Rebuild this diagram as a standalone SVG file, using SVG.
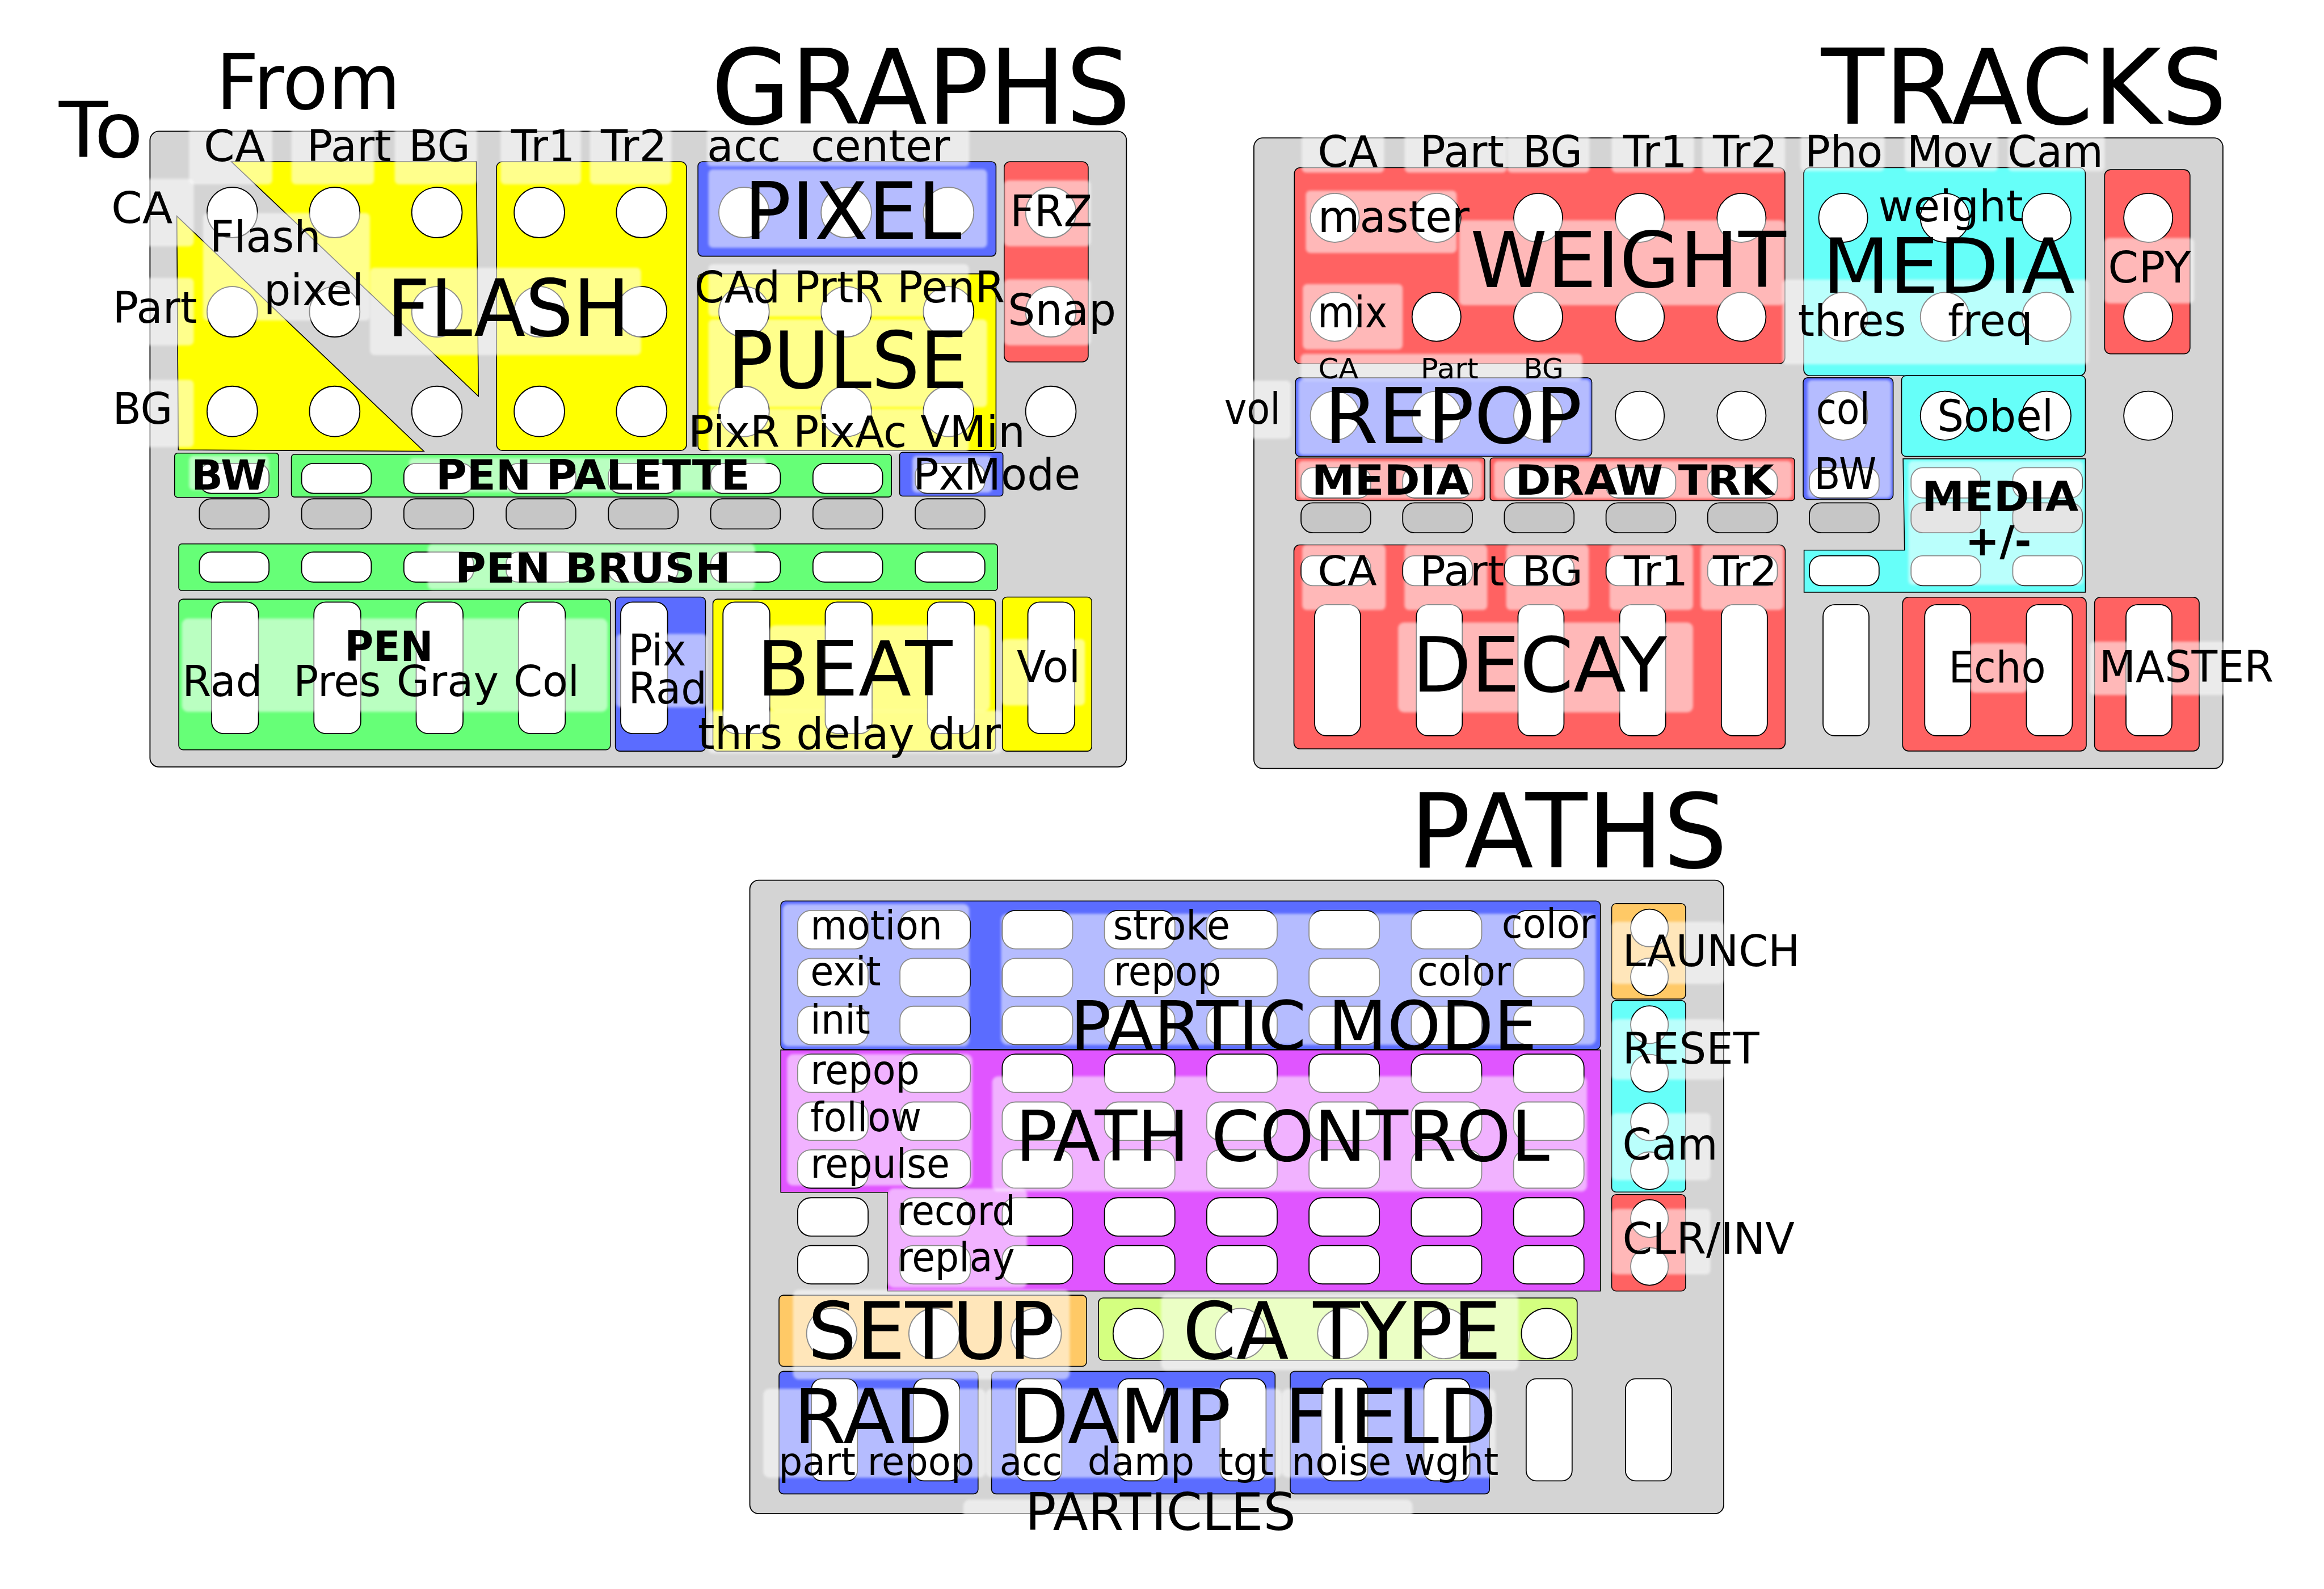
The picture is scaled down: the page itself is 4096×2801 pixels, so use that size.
<svg xmlns="http://www.w3.org/2000/svg" width="4096" height="2801" viewBox="0 0 4096 2801">
<defs>
<filter id="bl" x="-10%" y="-10%" width="120%" height="120%"><feGaussianBlur stdDeviation="0.8"/></filter>
<style>
text{font-family:"DejaVu Sans","Liberation Sans",sans-serif;fill:#000}
.s{font-size:29px}
.s2{font-size:27.5px}
.sb{font-size:28px;font-weight:bold}
.m{font-size:52px}
.t{font-size:70px}
.pn{fill:#d4d4d4;stroke:#000;stroke-width:0.7}
.Y{fill:#ffff00;stroke:#000;stroke-width:0.6}
.R{fill:#ff6262;stroke:#000;stroke-width:0.6}
.B{fill:#5b6cff;stroke:#000;stroke-width:0.6}
.G{fill:#66ff77;stroke:#000;stroke-width:0.6}
.C{fill:#66fff9;stroke:#000;stroke-width:0.6}
.M{fill:#e055ff;stroke:#000;stroke-width:0.6}
.O{fill:#ffc966;stroke:#000;stroke-width:0.6}
.L{fill:#d4ff80;stroke:#000;stroke-width:0.6}
circle{fill:#fff;stroke:#000;stroke-width:0.7}
.bt{fill:#fff;stroke:#000;stroke-width:0.7}
.gb{fill:#c6c6c6;stroke:#000;stroke-width:0.7}
.w{fill:#fff;opacity:0.55;filter:url(#bl)}
</style>
</defs>
<rect width="4096" height="2801" fill="#fff"/>
<g transform="scale(2.61224)">

<!-- ================= GRAPHS ================= -->
<g id="graphs">
<rect class="pn" x="101.2" y="88.6" width="658.8" height="428.9" rx="6"/>

<g id="flash">
<polygon class="Y" points="156.1,109.1 321.4,109.1 322.8,267.4"/>
<polygon class="Y" points="119.3,145.8 120.3,303.6 286,304.5"/>
<rect class="Y" x="335" y="109.1" width="128.2" height="194.9" rx="4"/>
<circle cx="156.7" cy="143.4" r="17"/><circle cx="225.8" cy="143.4" r="17"/><circle cx="294.8" cy="143.4" r="17"/><circle cx="363.9" cy="143.4" r="17"/><circle cx="432.9" cy="143.4" r="17"/>
<circle cx="156.7" cy="210.4" r="17"/><circle cx="225.8" cy="210.4" r="17"/><circle cx="294.8" cy="210.4" r="17"/><circle cx="363.9" cy="210.4" r="17"/><circle cx="432.9" cy="210.4" r="17"/>
<circle cx="156.7" cy="277.6" r="17"/><circle cx="225.8" cy="277.6" r="17"/><circle cx="294.8" cy="277.6" r="17"/><circle cx="363.9" cy="277.6" r="17"/><circle cx="432.9" cy="277.6" r="17"/>
<rect class="w" x="137" y="143.7" width="112.6" height="72.6" rx="3"/>
<rect class="w" x="249.6" y="180.7" width="182.9" height="58.9" rx="3"/>
<text class="s" x="141.5" y="170" textLength="75" lengthAdjust="spacingAndGlyphs">Flash</text>
<text class="s" x="178" y="206.1" textLength="67.5" lengthAdjust="spacingAndGlyphs">pixel</text>
<text x="261" y="226.6" font-size="53.5" textLength="164" lengthAdjust="spacingAndGlyphs">FLASH</text>
</g>

<g id="pixel">
<rect class="B" x="470.9" y="109.1" width="201.1" height="63.8" rx="3"/>
<circle cx="502" cy="143.4" r="17"/><circle cx="571" cy="143.4" r="17"/><circle cx="640" cy="143.4" r="17"/>
<rect class="w" x="478" y="114.3" width="188" height="52.9" rx="3"/>
<text x="502" y="161" font-size="53" textLength="146.7" lengthAdjust="spacingAndGlyphs">PIXEL</text>
</g>

<g id="pulse">
<rect class="Y" x="470.9" y="184.8" width="201.1" height="119.2" rx="3"/>
<circle cx="502" cy="210.4" r="17"/><circle cx="571" cy="210.4" r="17"/><circle cx="640" cy="210.4" r="17"/>
<circle cx="502" cy="277.6" r="17"/><circle cx="571" cy="277.6" r="17"/><circle cx="640" cy="277.6" r="17"/>
<rect class="w" x="478" y="178.3" width="175.7" height="35.3" rx="3"/>
<rect class="w" x="478" y="215.5" width="188" height="59.3" rx="3"/>
<rect class="w" x="478" y="275.8" width="175.7" height="29.7" rx="3"/>
<text class="s" x="468.5" y="204.2" textLength="209.5" lengthAdjust="spacingAndGlyphs">CAd PrtR PenR</text>
<text x="491" y="261.8" font-size="53" textLength="162" lengthAdjust="spacingAndGlyphs">PULSE</text>
<text class="s" x="464.4" y="301.8" textLength="227.3" lengthAdjust="spacingAndGlyphs">PixR PixAc VMin</text>
</g>

<g id="frz">
<rect class="R" x="677.5" y="109.1" width="56.7" height="135.1" rx="4"/>
<circle cx="709" cy="143.4" r="17"/><circle cx="709" cy="210.4" r="17"/>
<rect class="w" x="677.5" y="121.7" width="58.5" height="44.5" rx="3"/>
<rect class="w" x="677.5" y="188.5" width="58.5" height="44.5" rx="3"/>
<text class="s" x="681.5" y="152.7" textLength="55.5" lengthAdjust="spacingAndGlyphs">FRZ</text>
<text class="s" x="680" y="219.2" textLength="73" lengthAdjust="spacingAndGlyphs">Snap</text>
</g>
<circle cx="709" cy="277.6" r="17"/>

<g id="bw">
<rect class="G" x="117.8" y="305.8" width="70.2" height="29.8" rx="2"/>
<rect class="bt" x="134.5" y="312.7" width="47" height="20.2" rx="8"/>
<rect class="w" x="127.6" y="307.6" width="53.9" height="23.1" rx="3"/>
<text class="sb" x="129" y="330.4" textLength="51" lengthAdjust="spacingAndGlyphs">BW</text>
</g>

<g id="pen-palette">
<rect class="G" x="196.6" y="306.6" width="404.9" height="28.8" rx="2"/>
<rect class="bt" x="203.5" y="312.7" width="47" height="20.2" rx="8"/>
<rect class="bt" x="272.5" y="312.7" width="47" height="20.2" rx="8"/>
<rect class="bt" x="341.5" y="312.7" width="47" height="20.2" rx="8"/>
<rect class="bt" x="410.5" y="312.7" width="47" height="20.2" rx="8"/>
<rect class="bt" x="479.5" y="312.7" width="47" height="20.2" rx="8"/>
<rect class="bt" x="548.5" y="312.7" width="47" height="20.2" rx="8"/>
<rect class="w" x="276" y="309" width="241" height="23" rx="3"/>
<text class="sb" x="294" y="330.4" textLength="212" lengthAdjust="spacingAndGlyphs">PEN PALETTE</text>
</g>

<g id="pxmode">
<rect class="B" x="607" y="305.2" width="69.7" height="29.6" rx="2"/>
<rect class="bt" x="617.5" y="312.7" width="47" height="20.2" rx="8"/>
<rect class="w" x="615.6" y="307.6" width="53.8" height="24.8" rx="3"/>
<text class="s" x="616" y="330.4" textLength="113" lengthAdjust="spacingAndGlyphs">PxMode</text>
</g>

<g id="graphs-gray-buttons">
<rect class="gb" x="134.5" y="336.6" width="47" height="20.3" rx="8"/>
<rect class="gb" x="203.5" y="336.6" width="47" height="20.3" rx="8"/>
<rect class="gb" x="272.5" y="336.6" width="47" height="20.3" rx="8"/>
<rect class="gb" x="341.5" y="336.6" width="47" height="20.3" rx="8"/>
<rect class="gb" x="410.5" y="336.6" width="47" height="20.3" rx="8"/>
<rect class="gb" x="479.5" y="336.6" width="47" height="20.3" rx="8"/>
<rect class="gb" x="548.5" y="336.6" width="47" height="20.3" rx="8"/>
<rect class="gb" x="617.5" y="336.6" width="47" height="20.3" rx="8"/>
</g>

<g id="pen-brush">
<rect class="G" x="120.6" y="367" width="552.4" height="31.5" rx="2"/>
<rect class="bt" x="134.5" y="372.5" width="47" height="20.3" rx="8"/>
<rect class="bt" x="203.5" y="372.5" width="47" height="20.3" rx="8"/>
<rect class="bt" x="272.5" y="372.5" width="47" height="20.3" rx="8"/>
<rect class="bt" x="341.5" y="372.5" width="47" height="20.3" rx="8"/>
<rect class="bt" x="410.5" y="372.5" width="47" height="20.3" rx="8"/>
<rect class="bt" x="479.5" y="372.5" width="47" height="20.3" rx="8"/>
<rect class="bt" x="548.5" y="372.5" width="47" height="20.3" rx="8"/>
<rect class="bt" x="617.5" y="372.5" width="47" height="20.3" rx="8"/>
<rect class="w" x="288.6" y="367.4" width="220.8" height="30.4" rx="3"/>
<text class="sb" x="307" y="393.2" textLength="186" lengthAdjust="spacingAndGlyphs">PEN BRUSH</text>
</g>

<g id="pen">
<rect class="G" x="120.6" y="404.3" width="291.2" height="101.7" rx="3"/>
<rect class="bt" x="142.8" y="406.3" width="31.6" height="88.7" rx="8"/>
<rect class="bt" x="211.8" y="406.3" width="31.6" height="88.7" rx="8"/>
<rect class="bt" x="280.8" y="406.3" width="31.6" height="88.7" rx="8"/>
<rect class="bt" x="349.8" y="406.3" width="31.6" height="88.7" rx="8"/>
<rect class="w" x="122.7" y="417.4" width="287.3" height="62.9" rx="4"/>
<text class="sb" x="232.6" y="446.1" textLength="59.7" lengthAdjust="spacingAndGlyphs">PEN</text>
<text x="123" y="469.9" font-size="28.5" textLength="54" lengthAdjust="spacingAndGlyphs">Rad</text>
<text x="198" y="469.9" font-size="28.5" textLength="59" lengthAdjust="spacingAndGlyphs">Pres</text>
<text x="267.5" y="469.9" font-size="28.5" textLength="69" lengthAdjust="spacingAndGlyphs">Gray</text>
<text x="346.4" y="469.9" font-size="28.5" textLength="44.5" lengthAdjust="spacingAndGlyphs">Col</text>
</g>

<g id="pix-rad">
<rect class="B" x="415.2" y="402.9" width="60.8" height="104" rx="3"/>
<rect class="bt" x="418.8" y="406.3" width="31.6" height="88.7" rx="8"/>
<rect class="w" x="416" y="427.8" width="61" height="49.6" rx="3"/>
<text class="s" x="424" y="449.2" textLength="39" lengthAdjust="spacingAndGlyphs">Pix</text>
<text class="s" x="424" y="474.7" textLength="53" lengthAdjust="spacingAndGlyphs">Rad</text>
</g>

<g id="beat">
<rect class="Y" x="481" y="404.3" width="190.7" height="102.6" rx="3"/>
<rect class="bt" x="487.8" y="406.3" width="31.6" height="88.7" rx="8"/>
<rect class="bt" x="556.8" y="406.3" width="31.6" height="88.7" rx="8"/>
<rect class="bt" x="625.8" y="406.3" width="31.6" height="88.7" rx="8"/>
<rect class="w" x="519" y="422" width="149" height="58" rx="4"/>
<rect class="w" x="478" y="479.5" width="198" height="29" rx="3"/>
<text x="510.6" y="469.2" font-size="51" textLength="132" lengthAdjust="spacingAndGlyphs">BEAT</text>
<text class="s" x="470.8" y="505.2" textLength="204.5" lengthAdjust="spacingAndGlyphs">thrs delay dur</text>
</g>

<g id="vol">
<rect class="Y" x="676.3" y="402.9" width="60.3" height="104" rx="3"/>
<rect class="bt" x="693.5" y="406.3" width="31.6" height="88.7" rx="8"/>
<rect class="w" x="676" y="431.2" width="56" height="44.8" rx="3"/>
<text class="s" x="686" y="460.2" textLength="43" lengthAdjust="spacingAndGlyphs">Vol</text>
</g>

<g id="graphs-labels">
<rect class="w" x="127.6" y="80" width="56.1" height="44.4" rx="3"/>
<rect class="w" x="196.6" y="80" width="55.8" height="44.4" rx="3"/>
<rect class="w" x="266.3" y="80" width="55.5" height="44.4" rx="3"/>
<rect class="w" x="337.7" y="80" width="54.3" height="44.4" rx="3"/>
<rect class="w" x="398" y="80" width="55" height="44.4" rx="3"/>
<rect class="w" x="477" y="80" width="177" height="32.4" rx="3"/>
<rect class="w" x="60" y="120.7" width="70.7" height="45.5" rx="3"/>
<rect class="w" x="60" y="187.6" width="70.7" height="45.4" rx="3"/>
<rect class="w" x="60" y="256.3" width="70.7" height="45.5" rx="3"/>
<text class="s" x="137.4" y="108.7" textLength="41.5" lengthAdjust="spacingAndGlyphs">CA</text>
<text class="s" x="207" y="108.7" textLength="57" lengthAdjust="spacingAndGlyphs">Part</text>
<text class="s" x="275.7" y="108.7" textLength="41.6" lengthAdjust="spacingAndGlyphs">BG</text>
<text class="s" x="344.8" y="108.7" textLength="43.2" lengthAdjust="spacingAndGlyphs">Tr1</text>
<text class="s" x="405.4" y="108.7" textLength="44.6" lengthAdjust="spacingAndGlyphs">Tr2</text>
<text class="s" x="477" y="108.7" textLength="49.9" lengthAdjust="spacingAndGlyphs">acc</text>
<text class="s" x="547" y="108.7" textLength="94" lengthAdjust="spacingAndGlyphs">center</text>
<text class="s" x="75" y="150.4" textLength="41.5" lengthAdjust="spacingAndGlyphs">CA</text>
<text class="s" x="76" y="217.9" textLength="57" lengthAdjust="spacingAndGlyphs">Part</text>
<text class="s" x="76" y="286" textLength="40.5" lengthAdjust="spacingAndGlyphs">BG</text>
<text class="m" x="145.8" y="73.4" textLength="124.6" lengthAdjust="spacingAndGlyphs">From</text>
<text class="m" x="39.7" y="105.9" textLength="57" lengthAdjust="spacingAndGlyphs">To</text>
<text class="t" x="479.9" y="83.6" textLength="283" lengthAdjust="spacingAndGlyphs">GRAPHS</text>
</g>
</g>

<!-- ================= TRACKS ================= -->
<g id="tracks">
<rect class="pn" x="846" y="93.1" width="653.8" height="425.5" rx="6"/>

<g id="weight">
<rect class="R" x="873.3" y="113.1" width="331" height="132.4" rx="4"/>
<circle cx="900.6" cy="147" r="16.5"/><circle cx="969.2" cy="147" r="16.5"/><circle cx="1037.8" cy="147" r="16.5"/><circle cx="1106.4" cy="147" r="16.5"/><circle cx="1175" cy="147" r="16.5"/>
<circle cx="900.6" cy="213.8" r="16.5"/><circle cx="969.2" cy="213.8" r="16.5"/><circle cx="1037.8" cy="213.8" r="16.5"/><circle cx="1106.4" cy="213.8" r="16.5"/><circle cx="1175" cy="213.8" r="16.5"/>
<rect class="w" x="881" y="128.6" width="101.8" height="42.1" rx="3"/>
<rect class="w" x="879" y="191.7" width="67.4" height="44.1" rx="3"/>
<rect class="w" x="984.5" y="148.6" width="219.5" height="57.4" rx="3"/>
<text class="s" x="889.2" y="156.6" textLength="102.3" lengthAdjust="spacingAndGlyphs">master</text>
<text class="s" x="889" y="220.8" textLength="47" lengthAdjust="spacingAndGlyphs">mix</text>
<text class="m" x="992" y="193.8" textLength="213" lengthAdjust="spacingAndGlyphs">WEIGHT</text>
</g>

<g id="media">
<rect class="C" x="1217" y="113.1" width="190" height="140.4" rx="4"/>
<circle cx="1243.6" cy="147" r="16.5"/><circle cx="1312.2" cy="147" r="16.5"/><circle cx="1380.8" cy="147" r="16.5"/>
<circle cx="1243.6" cy="213.8" r="16.5"/><circle cx="1312.2" cy="213.8" r="16.5"/><circle cx="1380.8" cy="213.8" r="16.5"/>
<rect class="w" x="1202.6" y="188.6" width="206.7" height="57.3" rx="3"/>
<text class="s" x="1267.3" y="149.2" textLength="97.7" lengthAdjust="spacingAndGlyphs">weight</text>
<text x="1229.6" y="197.7" font-size="51" textLength="170.3" lengthAdjust="spacingAndGlyphs">MEDIA</text>
<text class="s" x="1213" y="226.8" textLength="73" lengthAdjust="spacingAndGlyphs">thres</text>
<text class="s" x="1314.2" y="226.8" textLength="57.3" lengthAdjust="spacingAndGlyphs">freq</text>
</g>

<g id="cpy">
<rect class="R" x="1420" y="114.5" width="57.6" height="124.3" rx="4"/>
<circle cx="1449.4" cy="147" r="16.5"/><circle cx="1449.4" cy="213.8" r="16.5"/>
<rect class="w" x="1420" y="160.6" width="60.4" height="44.1" rx="3"/>
<text class="s" x="1422.3" y="190.7" textLength="56" lengthAdjust="spacingAndGlyphs">CPY</text>
</g>

<g id="repop">
<rect class="B" x="874" y="254.9" width="200" height="53.1" rx="3"/>
<circle cx="900.6" cy="280.5" r="16.5"/><circle cx="969.2" cy="280.5" r="16.5"/><circle cx="1037.8" cy="280.5" r="16.5"/>
<rect class="w" x="877.5" y="238.8" width="190.1" height="18.1" rx="3"/>
<rect class="w" x="876" y="256" width="197" height="51" rx="3"/>
<rect class="w" x="838" y="256.9" width="33" height="39.1" rx="3"/>
<text x="889.5" y="255.5" font-size="19" textLength="27" lengthAdjust="spacingAndGlyphs">CA</text>
<text x="958.5" y="255.5" font-size="19" textLength="39" lengthAdjust="spacingAndGlyphs">Part</text>
<text x="1028" y="255.5" font-size="19" textLength="27" lengthAdjust="spacingAndGlyphs">BG</text>
<text class="m" x="893.5" y="299" textLength="174" lengthAdjust="spacingAndGlyphs">REPOP</text>
<text class="s" x="826" y="286" textLength="38" lengthAdjust="spacingAndGlyphs">vol</text>
</g>
<circle cx="1106.4" cy="280.5" r="16.5"/><circle cx="1175" cy="280.5" r="16.5"/><circle cx="1449.4" cy="280.5" r="16.5"/>

<g id="sobel">
<rect class="C" x="1283" y="253.5" width="124" height="54.5" rx="3"/>
<circle cx="1312.2" cy="280.5" r="16.5"/><circle cx="1380.8" cy="280.5" r="16.5"/>
<text class="s" x="1307" y="291" textLength="78.5" lengthAdjust="spacingAndGlyphs">Sobel</text>
</g>

<g id="tracks-bw">
<rect class="B" x="1216.6" y="254.9" width="60.7" height="82.2" rx="3"/>
<circle cx="1243.6" cy="280.5" r="16.5"/>
<rect class="bt" x="1220.8" y="315.6" width="47" height="20.4" rx="8"/>
<rect class="w" x="1219.5" y="256.5" width="56.5" height="79.5" rx="3"/>
<text class="s" x="1225.3" y="286" textLength="36.4" lengthAdjust="spacingAndGlyphs">col</text>
<text class="s" x="1224" y="330" textLength="42" lengthAdjust="spacingAndGlyphs">BW</text>
</g>

<g id="media-bar">
<rect class="R" x="874" y="309" width="127.8" height="28.8" rx="2"/>
<rect class="bt" x="877.8" y="315.6" width="47" height="20.4" rx="8"/>
<rect class="bt" x="946.4" y="315.6" width="47" height="20.4" rx="8"/>
<rect class="w" x="876" y="311" width="124" height="25.5" rx="3"/>
<text class="sb" x="885" y="334" textLength="106.5" lengthAdjust="spacingAndGlyphs">MEDIA</text>
</g>

<g id="draw-trk">
<rect class="R" x="1005.4" y="309" width="205.4" height="28.8" rx="2"/>
<rect class="bt" x="1015" y="315.6" width="47" height="20.4" rx="8"/>
<rect class="bt" x="1083.6" y="315.6" width="47" height="20.4" rx="8"/>
<rect class="bt" x="1152.2" y="315.6" width="47" height="20.4" rx="8"/>
<rect class="w" x="1008" y="311" width="201" height="25.5" rx="3"/>
<text class="sb" x="1022.3" y="334" textLength="174.7" lengthAdjust="spacingAndGlyphs">DRAW TRK</text>
</g>

<g id="tracks-gray-buttons">
<rect class="gb" x="877.8" y="339.3" width="47" height="20.2" rx="8"/>
<rect class="gb" x="946.4" y="339.3" width="47" height="20.2" rx="8"/>
<rect class="gb" x="1015" y="339.3" width="47" height="20.2" rx="8"/>
<rect class="gb" x="1083.6" y="339.3" width="47" height="20.2" rx="8"/>
<rect class="gb" x="1152.2" y="339.3" width="47" height="20.2" rx="8"/>
<rect class="gb" x="1220.8" y="339.3" width="47" height="20.2" rx="8"/>
</g>

<g id="media-plus-minus">
<polygon class="C" points="1284,309.6 1407,309.6 1407,399.6 1217.2,399.6 1217.2,371.2 1285,371.2"/>
<rect class="bt" x="1289.4" y="315.6" width="47" height="20.4" rx="8"/>
<rect class="bt" x="1358" y="315.6" width="47" height="20.4" rx="8"/>
<rect class="gb" x="1289.4" y="339.3" width="47" height="20.2" rx="8"/>
<rect class="gb" x="1358" y="339.3" width="47" height="20.2" rx="8"/>
<rect class="bt" x="1220.8" y="375" width="47" height="20.2" rx="8"/>
<rect class="bt" x="1289.4" y="375" width="47" height="20.2" rx="8"/>
<rect class="bt" x="1358" y="375" width="47" height="20.2" rx="8"/>
<rect class="w" x="1287.6" y="311" width="118" height="83.7" rx="3"/>
<text class="sb" x="1296.6" y="345" textLength="105.7" lengthAdjust="spacingAndGlyphs">MEDIA</text>
<text class="sb" x="1326" y="374.6" textLength="44.6" lengthAdjust="spacingAndGlyphs">+/-</text>
</g>

<g id="decay">
<rect class="R" x="873" y="367.7" width="331.5" height="137.6" rx="4"/>
<rect class="bt" x="877.8" y="375" width="47" height="20.2" rx="8"/>
<rect class="bt" x="946.4" y="375" width="47" height="20.2" rx="8"/>
<rect class="bt" x="1015" y="375" width="47" height="20.2" rx="8"/>
<rect class="bt" x="1083.6" y="375" width="47" height="20.2" rx="8"/>
<rect class="bt" x="1152.2" y="375" width="47" height="20.2" rx="8"/>
<rect class="bt" x="887" y="408" width="31" height="88.5" rx="8"/>
<rect class="bt" x="955.6" y="408" width="31" height="88.5" rx="8"/>
<rect class="bt" x="1024.2" y="408" width="31" height="88.5" rx="8"/>
<rect class="bt" x="1092.8" y="408" width="31" height="88.5" rx="8"/>
<rect class="bt" x="1161.4" y="408" width="31" height="88.5" rx="8"/>
<rect class="w" x="878.6" y="367.7" width="56.3" height="43.9" rx="3"/>
<rect class="w" x="947.6" y="367.7" width="55.9" height="43.9" rx="3"/>
<rect class="w" x="1016.2" y="367.7" width="55.8" height="43.9" rx="3"/>
<rect class="w" x="1086" y="367.7" width="56.3" height="43.9" rx="3"/>
<rect class="w" x="1147.4" y="367.7" width="55.8" height="43.9" rx="3"/>
<rect class="w" x="943.3" y="420" width="199" height="60.7" rx="4"/>
<text class="sb" style="font-weight:normal" x="889" y="395.2" textLength="40" lengthAdjust="spacingAndGlyphs">CA</text>
<text class="sb" style="font-weight:normal" x="958" y="395.2" textLength="57" lengthAdjust="spacingAndGlyphs">Part</text>
<text class="sb" style="font-weight:normal" x="1027" y="395.2" textLength="41" lengthAdjust="spacingAndGlyphs">BG</text>
<text class="sb" style="font-weight:normal" x="1095.6" y="395.2" textLength="43.4" lengthAdjust="spacingAndGlyphs">Tr1</text>
<text class="sb" style="font-weight:normal" x="1155.7" y="395.2" textLength="43.3" lengthAdjust="spacingAndGlyphs">Tr2</text>
<text x="952.8" y="466.8" font-size="51" textLength="172" lengthAdjust="spacingAndGlyphs">DECAY</text>
</g>
<rect class="bt" x="1230" y="408" width="31" height="88.5" rx="8"/>

<g id="echo">
<rect class="R" x="1283.7" y="403" width="123.9" height="103.8" rx="4"/>
<rect class="bt" x="1298.6" y="408" width="31" height="88.5" rx="8"/>
<rect class="bt" x="1367.2" y="408" width="31" height="88.5" rx="8"/>
<rect class="w" x="1329.4" y="434" width="38.1" height="33.4" rx="3"/>
<text class="s" x="1314.8" y="460.4" textLength="65.5" lengthAdjust="spacingAndGlyphs">Echo</text>
</g>

<g id="master">
<rect class="R" x="1413.2" y="403" width="70.6" height="103.8" rx="4"/>
<rect class="bt" x="1434.4" y="408" width="31" height="88.5" rx="8"/>
<rect class="w" x="1410" y="433" width="135" height="36" rx="3"/>
<text class="s" x="1416.3" y="460" textLength="117.7" lengthAdjust="spacingAndGlyphs">MASTER</text>
</g>

<g id="tracks-labels">
<rect class="w" x="878.3" y="86" width="55.6" height="30.5" rx="3"/>
<rect class="w" x="947.7" y="86" width="68.9" height="30.5" rx="3"/>
<rect class="w" x="1017" y="86" width="55.4" height="30.5" rx="3"/>
<rect class="w" x="1087.4" y="86" width="55.6" height="30.5" rx="3"/>
<rect class="w" x="1148.5" y="86" width="55.8" height="30.5" rx="3"/>
<rect class="w" x="1214.8" y="86" width="56.7" height="29.5" rx="3"/>
<rect class="w" x="1285" y="86" width="63" height="29.5" rx="3"/>
<rect class="w" x="1354.8" y="86" width="65.2" height="29.5" rx="3"/>
<text class="s" x="889" y="112.5" textLength="40.7" lengthAdjust="spacingAndGlyphs">CA</text>
<text class="s" x="958" y="112.5" textLength="56.8" lengthAdjust="spacingAndGlyphs">Part</text>
<text class="s" x="1027.4" y="112.5" textLength="40.2" lengthAdjust="spacingAndGlyphs">BG</text>
<text class="s" x="1095" y="112.5" textLength="43.4" lengthAdjust="spacingAndGlyphs">Tr1</text>
<text class="s" x="1155.7" y="112.5" textLength="43.7" lengthAdjust="spacingAndGlyphs">Tr2</text>
<text class="s" x="1217.7" y="112.5" textLength="52.6" lengthAdjust="spacingAndGlyphs">Pho</text>
<text class="s" x="1286.6" y="112.5" textLength="58" lengthAdjust="spacingAndGlyphs">Mov</text>
<text class="s" x="1354.5" y="112.5" textLength="64.5" lengthAdjust="spacingAndGlyphs">Cam</text>
<text class="t" x="1228.6" y="83.4" textLength="274" lengthAdjust="spacingAndGlyphs">TRACKS</text>
</g>
</g>

<!-- ================= PATHS ================= -->
<g id="paths">
<rect class="pn" x="505.9" y="594" width="657.1" height="427.4" rx="6"/>

<g id="partic-mode">
<rect class="B" x="526.8" y="608" width="553" height="100.1" rx="3"/>
<g>
<rect class="bt" x="538.2" y="614.4" width="47.5" height="25.9" rx="9"/><rect class="bt" x="607.2" y="614.4" width="47.5" height="25.9" rx="9"/><rect class="bt" x="676.2" y="614.4" width="47.5" height="25.9" rx="9"/><rect class="bt" x="745.2" y="614.4" width="47.5" height="25.9" rx="9"/><rect class="bt" x="814.2" y="614.4" width="47.5" height="25.9" rx="9"/><rect class="bt" x="883.2" y="614.4" width="47.5" height="25.9" rx="9"/><rect class="bt" x="952.2" y="614.4" width="47.5" height="25.9" rx="9"/><rect class="bt" x="1021.2" y="614.4" width="47.5" height="25.9" rx="9"/>
<rect class="bt" x="538.2" y="646.7" width="47.5" height="25.9" rx="9"/><rect class="bt" x="607.2" y="646.7" width="47.5" height="25.9" rx="9"/><rect class="bt" x="676.2" y="646.7" width="47.5" height="25.9" rx="9"/><rect class="bt" x="745.2" y="646.7" width="47.5" height="25.9" rx="9"/><rect class="bt" x="814.2" y="646.7" width="47.5" height="25.9" rx="9"/><rect class="bt" x="883.2" y="646.7" width="47.5" height="25.9" rx="9"/><rect class="bt" x="952.2" y="646.7" width="47.5" height="25.9" rx="9"/><rect class="bt" x="1021.2" y="646.7" width="47.5" height="25.9" rx="9"/>
<rect class="bt" x="538.2" y="679" width="47.5" height="25.9" rx="9"/><rect class="bt" x="607.2" y="679" width="47.5" height="25.9" rx="9"/><rect class="bt" x="676.2" y="679" width="47.5" height="25.9" rx="9"/><rect class="bt" x="745.2" y="679" width="47.5" height="25.9" rx="9"/><rect class="bt" x="814.2" y="679" width="47.5" height="25.9" rx="9"/><rect class="bt" x="883.2" y="679" width="47.5" height="25.9" rx="9"/><rect class="bt" x="952.2" y="679" width="47.5" height="25.9" rx="9"/><rect class="bt" x="1021.2" y="679" width="47.5" height="25.9" rx="9"/>
</g>
<rect class="w" x="528" y="610" width="126" height="96" rx="4"/>
<rect class="w" x="675.4" y="616.6" width="401.3" height="88.4" rx="4"/>
<text class="s2" x="546.8" y="633.8" textLength="89" lengthAdjust="spacingAndGlyphs">motion</text>
<text class="s2" x="546.8" y="665" textLength="47.6" lengthAdjust="spacingAndGlyphs">exit</text>
<text class="s2" x="546.8" y="697.3" textLength="40.4" lengthAdjust="spacingAndGlyphs">init</text>
<text class="s2" x="751" y="633.8" textLength="79" lengthAdjust="spacingAndGlyphs">stroke</text>
<text class="s2" x="751.5" y="665" textLength="72.5" lengthAdjust="spacingAndGlyphs">repop</text>
<text class="s2" x="1013.2" y="632.8" textLength="63.3" lengthAdjust="spacingAndGlyphs">color</text>
<text class="s2" x="956.2" y="665" textLength="63.3" lengthAdjust="spacingAndGlyphs">color</text>
<text x="722" y="708.1" font-size="46" textLength="315" lengthAdjust="spacingAndGlyphs">PARTIC MODE</text>
</g>

<g id="path-control">
<polygon class="M" points="526.8,708.5 1079.8,708.5 1079.8,871.2 598.8,871.2 598.8,804.6 526.8,804.6"/>
<g>
<rect class="bt" x="538.2" y="711.3" width="47.5" height="25.9" rx="9"/><rect class="bt" x="607.2" y="711.3" width="47.5" height="25.9" rx="9"/><rect class="bt" x="676.2" y="711.3" width="47.5" height="25.9" rx="9"/><rect class="bt" x="745.2" y="711.3" width="47.5" height="25.9" rx="9"/><rect class="bt" x="814.2" y="711.3" width="47.5" height="25.9" rx="9"/><rect class="bt" x="883.2" y="711.3" width="47.5" height="25.9" rx="9"/><rect class="bt" x="952.2" y="711.3" width="47.5" height="25.9" rx="9"/><rect class="bt" x="1021.2" y="711.3" width="47.5" height="25.9" rx="9"/>
<rect class="bt" x="538.2" y="743.6" width="47.5" height="25.9" rx="9"/><rect class="bt" x="607.2" y="743.6" width="47.5" height="25.9" rx="9"/><rect class="bt" x="676.2" y="743.6" width="47.5" height="25.9" rx="9"/><rect class="bt" x="745.2" y="743.6" width="47.5" height="25.9" rx="9"/><rect class="bt" x="814.2" y="743.6" width="47.5" height="25.9" rx="9"/><rect class="bt" x="883.2" y="743.6" width="47.5" height="25.9" rx="9"/><rect class="bt" x="952.2" y="743.6" width="47.5" height="25.9" rx="9"/><rect class="bt" x="1021.2" y="743.6" width="47.5" height="25.9" rx="9"/>
<rect class="bt" x="538.2" y="775.9" width="47.5" height="25.9" rx="9"/><rect class="bt" x="607.2" y="775.9" width="47.5" height="25.9" rx="9"/><rect class="bt" x="676.2" y="775.9" width="47.5" height="25.9" rx="9"/><rect class="bt" x="745.2" y="775.9" width="47.5" height="25.9" rx="9"/><rect class="bt" x="814.2" y="775.9" width="47.5" height="25.9" rx="9"/><rect class="bt" x="883.2" y="775.9" width="47.5" height="25.9" rx="9"/><rect class="bt" x="952.2" y="775.9" width="47.5" height="25.9" rx="9"/><rect class="bt" x="1021.2" y="775.9" width="47.5" height="25.9" rx="9"/>
<rect class="bt" x="607.2" y="808.2" width="47.5" height="25.9" rx="9"/><rect class="bt" x="676.2" y="808.2" width="47.5" height="25.9" rx="9"/><rect class="bt" x="745.2" y="808.2" width="47.5" height="25.9" rx="9"/><rect class="bt" x="814.2" y="808.2" width="47.5" height="25.9" rx="9"/><rect class="bt" x="883.2" y="808.2" width="47.5" height="25.9" rx="9"/><rect class="bt" x="952.2" y="808.2" width="47.5" height="25.9" rx="9"/><rect class="bt" x="1021.2" y="808.2" width="47.5" height="25.9" rx="9"/>
<rect class="bt" x="607.2" y="840.5" width="47.5" height="25.9" rx="9"/><rect class="bt" x="676.2" y="840.5" width="47.5" height="25.9" rx="9"/><rect class="bt" x="745.2" y="840.5" width="47.5" height="25.9" rx="9"/><rect class="bt" x="814.2" y="840.5" width="47.5" height="25.9" rx="9"/><rect class="bt" x="883.2" y="840.5" width="47.5" height="25.9" rx="9"/><rect class="bt" x="952.2" y="840.5" width="47.5" height="25.9" rx="9"/><rect class="bt" x="1021.2" y="840.5" width="47.5" height="25.9" rx="9"/>
</g>
<rect class="w" x="531" y="711.4" width="125" height="88.6" rx="4"/>
<rect class="w" x="599" y="802" width="94" height="67" rx="4"/>
<rect class="w" x="669.4" y="726.3" width="401.4" height="77.7" rx="4"/>
<text class="s2" x="546.8" y="731.7" textLength="73.7" lengthAdjust="spacingAndGlyphs">repop</text>
<text class="s2" x="546.8" y="763.4" textLength="74.9" lengthAdjust="spacingAndGlyphs">follow</text>
<text class="s2" x="546.8" y="794.9" textLength="94" lengthAdjust="spacingAndGlyphs">repulse</text>
<text class="s2" x="605.4" y="826.6" textLength="79.8" lengthAdjust="spacingAndGlyphs">record</text>
<text class="s2" x="605.4" y="857.8" textLength="79.3" lengthAdjust="spacingAndGlyphs">replay</text>
<text x="685.2" y="783.4" font-size="47" textLength="360.3" lengthAdjust="spacingAndGlyphs">PATH CONTROL</text>
</g>
<rect class="bt" x="538.2" y="808.2" width="47.5" height="25.9" rx="9"/>
<rect class="bt" x="538.2" y="840.5" width="47.5" height="25.9" rx="9"/>

<g id="launch">
<rect class="O" x="1087.4" y="609.7" width="49.9" height="64.4" rx="3"/>
<circle cx="1112.9" cy="626.2" r="12.7"/><circle cx="1112.9" cy="659.2" r="12.7"/>
<rect class="w" x="1087.5" y="622" width="75.5" height="42" rx="3"/>
<text x="1094.7" y="652" font-size="29.5" textLength="119.7" lengthAdjust="spacingAndGlyphs">LAUNCH</text>
</g>

<g id="reset">
<rect class="C" x="1087.4" y="675.1" width="49.9" height="129.3" rx="3"/>
<circle cx="1112.9" cy="691.5" r="12.7"/><circle cx="1112.9" cy="724.2" r="12.7"/><circle cx="1112.9" cy="757" r="12.7"/><circle cx="1112.9" cy="790" r="12.7"/>
<rect class="w" x="1087.5" y="687.7" width="75.5" height="40.9" rx="3"/>
<rect class="w" x="1087.5" y="751.2" width="66.5" height="45.2" rx="3"/>
<text x="1094.7" y="717.8" font-size="29.5" textLength="92.3" lengthAdjust="spacingAndGlyphs">RESET</text>
<text x="1094.7" y="782.4" font-size="29.5" textLength="64.3" lengthAdjust="spacingAndGlyphs">Cam</text>
</g>

<g id="clr-inv">
<rect class="R" x="1087.4" y="806.1" width="49.9" height="65.1" rx="3"/>
<circle cx="1112.9" cy="822.3" r="12.7"/><circle cx="1112.9" cy="854.6" r="12.7"/>
<rect class="w" x="1087.5" y="815.8" width="66.5" height="44.2" rx="3"/>
<text x="1094.7" y="846" font-size="29.5" textLength="116.1" lengthAdjust="spacingAndGlyphs">CLR/INV</text>
</g>

<g id="rad">
<rect class="B" x="525.6" y="925.4" width="134.3" height="82.7" rx="3"/>
<rect class="bt" x="547.5" y="930.4" width="31" height="68.9" rx="7"/>
<rect class="bt" x="616.4" y="930.4" width="31" height="68.9" rx="7"/>
<rect class="w" x="515" y="937.1" width="150" height="60" rx="4"/>
<text x="535.5" y="974" font-size="51.5" textLength="107.5" lengthAdjust="spacingAndGlyphs">RAD</text>
<text x="525.3" y="995.2" font-size="26" textLength="52" lengthAdjust="spacingAndGlyphs">part</text>
<text x="585.2" y="995.2" font-size="26" textLength="72.2" lengthAdjust="spacingAndGlyphs">repop</text>
</g>

<g id="damp">
<rect class="B" x="669" y="925.4" width="191.3" height="82.7" rx="3"/>
<rect class="bt" x="685.4" y="930.4" width="31" height="68.9" rx="7"/>
<rect class="bt" x="754.3" y="930.4" width="31" height="68.9" rx="7"/>
<rect class="bt" x="823.2" y="930.4" width="31" height="68.9" rx="7"/>
<rect class="w" x="665" y="937.1" width="200" height="60" rx="4"/>
<text x="681.7" y="974" font-size="51.5" textLength="149" lengthAdjust="spacingAndGlyphs">DAMP</text>
<text x="674.4" y="995.2" font-size="26" textLength="42.3" lengthAdjust="spacingAndGlyphs">acc</text>
<text x="733.8" y="995.2" font-size="26" textLength="72" lengthAdjust="spacingAndGlyphs">damp</text>
<text x="821.7" y="995.2" font-size="26" textLength="37.6" lengthAdjust="spacingAndGlyphs">tgt</text>
</g>

<g id="field">
<rect class="B" x="870.5" y="925.4" width="134.5" height="82.7" rx="3"/>
<rect class="bt" x="891.8" y="930.4" width="31" height="68.9" rx="7"/>
<rect class="bt" x="960.7" y="930.4" width="31" height="68.9" rx="7"/>
<rect class="w" x="865" y="937.1" width="144" height="60" rx="4"/>
<text x="866.8" y="974" font-size="51.5" textLength="143" lengthAdjust="spacingAndGlyphs">FIELD</text>
<text x="871.4" y="995.2" font-size="26" textLength="67.3" lengthAdjust="spacingAndGlyphs">noise</text>
<text x="947.4" y="995.2" font-size="26" textLength="63.8" lengthAdjust="spacingAndGlyphs">wght</text>
</g>
<rect class="bt" x="1029.7" y="930.4" width="31" height="68.9" rx="7"/>
<rect class="bt" x="1096.7" y="930.4" width="31" height="68.9" rx="7"/>

<g id="setup">
<rect class="O" x="525.6" y="874" width="207.5" height="48" rx="3"/>
<circle cx="561.2" cy="899.9" r="17"/><circle cx="630.2" cy="899.9" r="17"/><circle cx="699.1" cy="899.9" r="17"/>
<rect class="w" x="535" y="870.3" width="186.7" height="60.5" rx="4"/>
<text x="545" y="916.8" font-size="53" textLength="166.8" lengthAdjust="spacingAndGlyphs">SETUP</text>
</g>

<g id="ca-type">
<rect class="L" x="741.2" y="875.9" width="322.9" height="42" rx="3"/>
<circle cx="768" cy="899.9" r="17"/><circle cx="837" cy="899.9" r="17"/><circle cx="906" cy="899.9" r="17"/><circle cx="974.5" cy="899.9" r="17"/><circle cx="1043.5" cy="899.9" r="17"/>
<rect class="w" x="783.4" y="873.3" width="241.1" height="51.3" rx="4"/>
<text x="798" y="916.8" font-size="53" textLength="215" lengthAdjust="spacingAndGlyphs">CA TYPE</text>
</g>

<g id="paths-labels">
<rect class="w" x="650" y="1012" width="303" height="28" rx="4"/>
<text x="691.7" y="1032.4" font-size="34.6" textLength="182.6" lengthAdjust="spacingAndGlyphs">PARTICLES</text>
<text x="951.2" y="585.4" font-size="69.5" textLength="214.3" lengthAdjust="spacingAndGlyphs">PATHS</text>
</g>
</g>

</g>
</svg>
